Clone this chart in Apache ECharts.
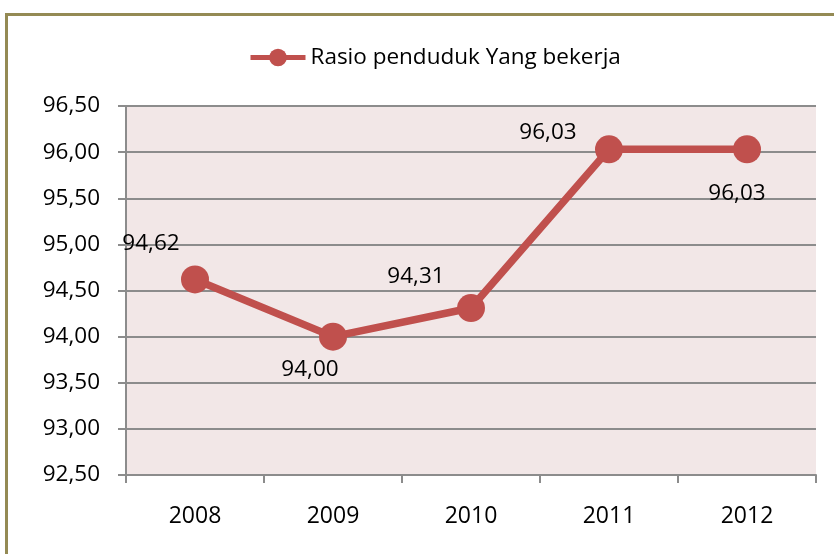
<!DOCTYPE html>
<html>
<head>
<meta charset="utf-8">
<script src="https://cdn.jsdelivr.net/npm/echarts@6/dist/echarts.min.js"></script>
<style>
body { margin: 0; background: #fff; }
</style>
</head>
<body>
<div id="ch" style="width: 834px; height: 554px;"></div>
<script>
var years = ['2008', '2009', '2010', '2011', '2012']
var rasio = [94.62, 94.00, 94.31, 96.03, 96.03]
// label offsets relative to each point
var labelShift = [[-44, -36], [-23, 33], [-55, -31], [-61, -17], [-10, 44]]

var fmt = function(v) {
    return Number(v).toFixed(2).replace('.', ',')
}

var chartInst = echarts.init(document.getElementById('ch'))
var option = {
    textStyle: { fontFamily: 'Open Sans' },
    graphic: [{
        type: 'rect',
        shape: { x: 6.5, y: 14.5, width: 900, height: 700 },
        style: { fill: 'none', stroke: '#948a54', lineWidth: 3 },
        silent: true
    }],
    legend: {
        top: 41,
        left: 243,
        itemWidth: 55,
        itemHeight: 22,
        lineStyle: { width: 5 },
        textStyle: { fontSize: 22.5, color: '#000', fontFamily: 'Open Sans' },
        data: ['Rasio penduduk Yang bekerja']
    },
    grid: {
        left: 126,
        right: 18,
        top: 106,
        bottom: 79,
        show: true,
        backgroundColor: '#f2e7e7',
        borderWidth: 0
    },
    xAxis: {
        type: 'category',
        data: years,
        boundaryGap: true,
        axisLine: { lineStyle: { color: '#8c8c8c', width: 2 } },
        axisTick: { show: true, length: 8, lineStyle: { color: '#8c8c8c', width: 2 } },
        axisLabel: { fontSize: 23, color: '#000', margin: 30 }
    },
    yAxis: {
        type: 'value',
        min: 92.5,
        max: 96.5,
        interval: 0.5,
        axisLine: { show: true, lineStyle: { color: '#8c8c8c', width: 2 } },
        axisTick: { show: true, length: 8, lineStyle: { color: '#8c8c8c', width: 2 } },
        splitLine: { lineStyle: { color: '#8c8c8c', width: 2 } },
        axisLabel: { fontSize: 22.5, color: '#000', margin: 26, formatter: fmt }
    },
    series: [{
        name: 'Rasio penduduk Yang bekerja',
        type: 'line',
        data: rasio.map(function(v, i) {
            return {
                value: v,
                label: { offset: labelShift[i] }
            }
        }),
        symbol: 'circle',
        symbolSize: 28,
        lineStyle: { color: '#c0504d', width: 7.5 },
        itemStyle: { color: '#c0504d' },
        label: {
            show: true,
            position: 'inside',
            fontSize: 22.5,
            color: '#000',
            formatter: function(p) { return fmt(p.value) }
        },
        animation: false
    }]
}
chartInst.setOption(option)
</script>
</body>
</html>
